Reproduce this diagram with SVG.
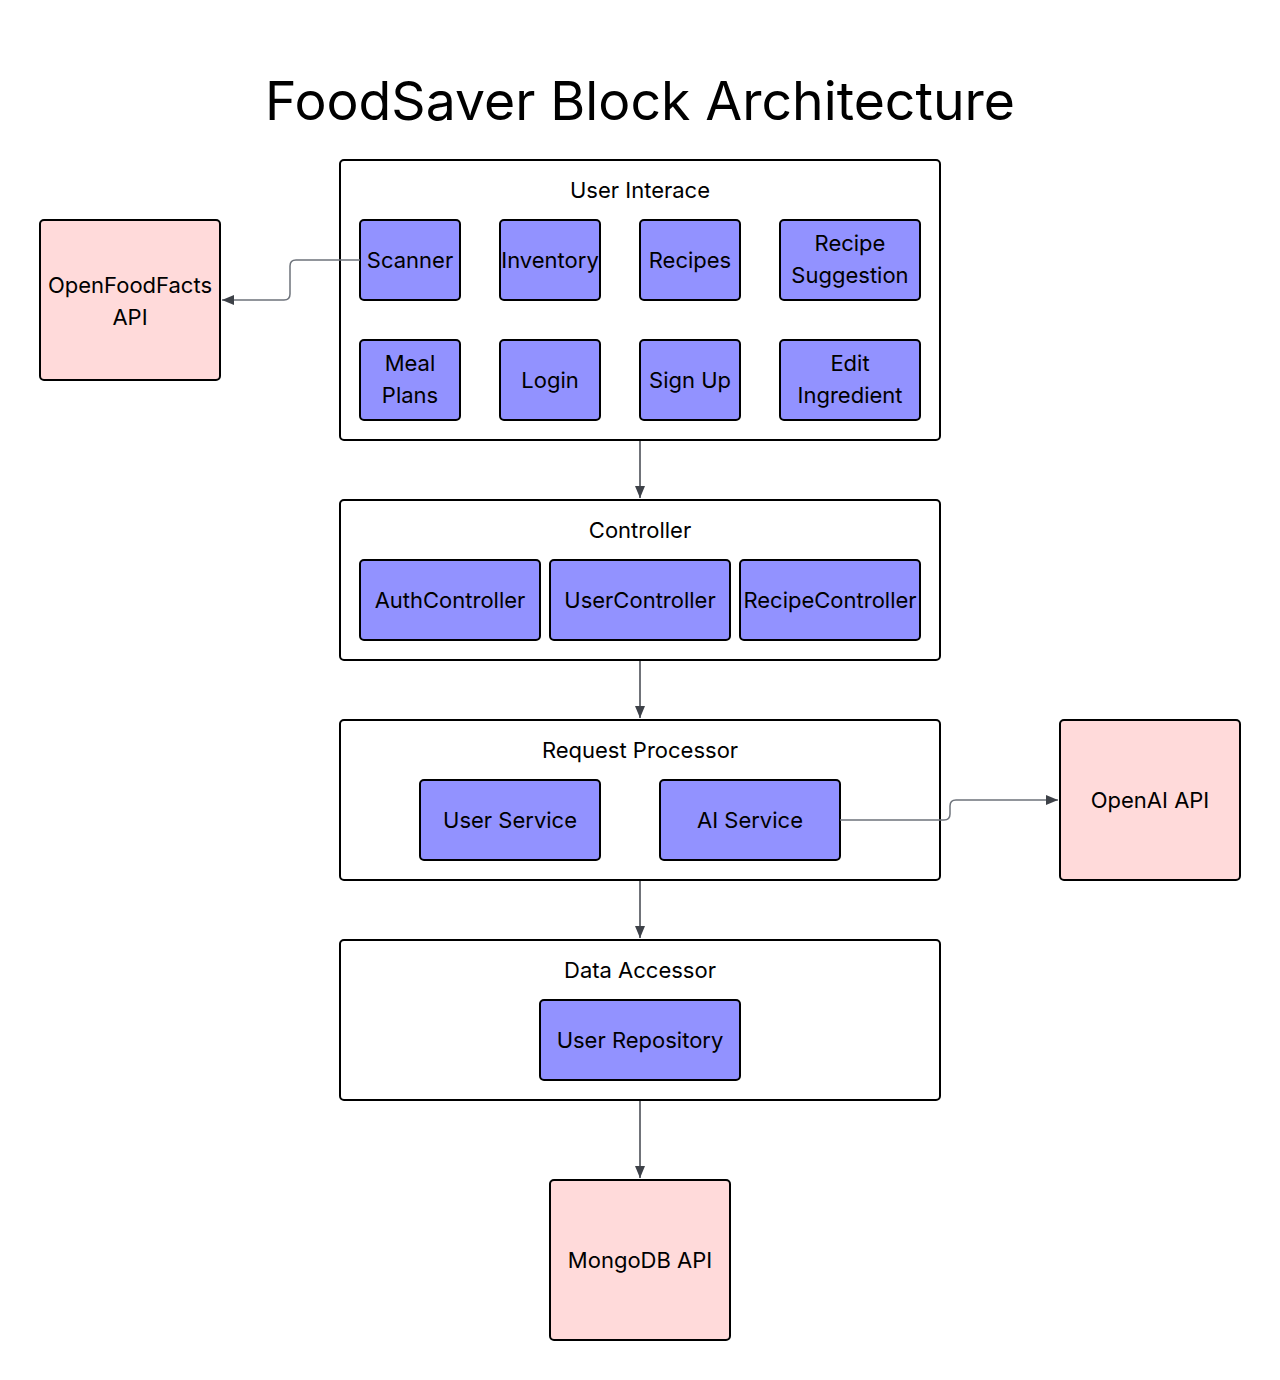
<svg xmlns="http://www.w3.org/2000/svg" width="1280" height="1380" viewBox="0 0 1280 1380">
<style>
text{font-family:Inter,"Noto Sans","Liberation Sans",sans-serif;fill:#000;text-anchor:middle}
.c{fill:#fff;stroke:#000;stroke-width:2}
.n{fill:#9292ff;stroke:#000;stroke-width:2}
.e{fill:#ffdada;stroke:#000;stroke-width:2}
.l{font-size:22px}
.ln{fill:none;stroke:#40444c;stroke-width:1.5}
.lg{fill:none;stroke:#6e737b;stroke-width:1.5}
</style>
<defs>
<marker id="ah" viewBox="0 0 12 12" refX="12" refY="6" markerWidth="12" markerHeight="12" markerUnits="userSpaceOnUse" orient="auto">
<path d="M0,1 L12,6 L0,11 Z" fill="#3d4148"/>
</marker>
</defs>
<rect width="1280" height="1380" fill="#fff"/>
<text x="640" y="120" font-size="53.5">FoodSaver Block Architecture</text>

<g id="ui">
<rect class="c" x="340" y="160" width="600" height="280" rx="4"/>
<text class="l" x="640" y="198">User Interace</text>
</g>
<g id="scanner"><rect class="n" x="360" y="220" width="100" height="80" rx="4"/><text class="l" x="410" y="268">Scanner</text></g>
<g id="inventory"><rect class="n" x="500" y="220" width="100" height="80" rx="4"/><text class="l" x="550" y="268">Inventory</text></g>
<g id="recipes"><rect class="n" x="640" y="220" width="100" height="80" rx="4"/><text class="l" x="690" y="268">Recipes</text></g>
<g id="recipesuggestion"><rect class="n" x="780" y="220" width="140" height="80" rx="4"/><text class="l" x="850" y="251">Recipe</text><text class="l" x="850" y="283">Suggestion</text></g>
<g id="mealplans"><rect class="n" x="360" y="340" width="100" height="80" rx="4"/><text class="l" x="410" y="371">Meal</text><text class="l" x="410" y="403">Plans</text></g>
<g id="login"><rect class="n" x="500" y="340" width="100" height="80" rx="4"/><text class="l" x="550" y="388">Login</text></g>
<g id="signup"><rect class="n" x="640" y="340" width="100" height="80" rx="4"/><text class="l" x="690" y="388">Sign Up</text></g>
<g id="editingredient"><rect class="n" x="780" y="340" width="140" height="80" rx="4"/><text class="l" x="850" y="371">Edit</text><text class="l" x="850" y="403">Ingredient</text></g>

<g id="controller">
<rect class="c" x="340" y="500" width="600" height="160" rx="4"/>
<text class="l" x="640" y="538">Controller</text>
</g>
<g id="authcontroller"><rect class="n" x="360" y="560" width="180" height="80" rx="4"/><text class="l" x="450" y="608">AuthController</text></g>
<g id="usercontroller"><rect class="n" x="550" y="560" width="180" height="80" rx="4"/><text class="l" x="640" y="608">UserController</text></g>
<g id="recipecontroller"><rect class="n" x="740" y="560" width="180" height="80" rx="4"/><text class="l" x="830" y="608">RecipeController</text></g>

<g id="requestprocessor">
<rect class="c" x="340" y="720" width="600" height="160" rx="4"/>
<text class="l" x="640" y="758">Request Processor</text>
</g>
<g id="userservice"><rect class="n" x="420" y="780" width="180" height="80" rx="4"/><text class="l" x="510" y="828">User Service</text></g>
<g id="aiservice"><rect class="n" x="660" y="780" width="180" height="80" rx="4"/><text class="l" x="750" y="828">AI Service</text></g>

<g id="dataaccessor">
<rect class="c" x="340" y="940" width="600" height="160" rx="4"/>
<text class="l" x="640" y="978">Data Accessor</text>
</g>
<g id="userrepository"><rect class="n" x="540" y="1000" width="200" height="80" rx="4"/><text class="l" x="640" y="1048">User Repository</text></g>

<g id="openfoodfacts"><rect class="e" x="40" y="220" width="180" height="160" rx="4"/><text class="l" x="130" y="293">OpenFoodFacts</text><text class="l" x="130" y="325">API</text></g>
<g id="openai"><rect class="e" x="1060" y="720" width="180" height="160" rx="4"/><text class="l" x="1150" y="808">OpenAI API</text></g>
<g id="mongodb"><rect class="e" x="550" y="1180" width="180" height="160" rx="4"/><text class="l" x="640" y="1268">MongoDB API</text></g>

<g id="connectors">
<path class="ln" d="M640,441 V498" marker-end="url(#ah)"/>
<path class="ln" d="M640,661 V718" marker-end="url(#ah)"/>
<path class="ln" d="M640,881 V938" marker-end="url(#ah)"/>
<path class="ln" d="M640,1101 V1178" marker-end="url(#ah)"/>
<path class="lg" d="M360,260 H296 Q290,260 290,266 V294 Q290,300 284,300 H222" marker-end="url(#ah)"/>
<path class="lg" d="M840,820 H944 Q950,820 950,814 V806 Q950,800 956,800 H1058" marker-end="url(#ah)"/>
</g>
</svg>
